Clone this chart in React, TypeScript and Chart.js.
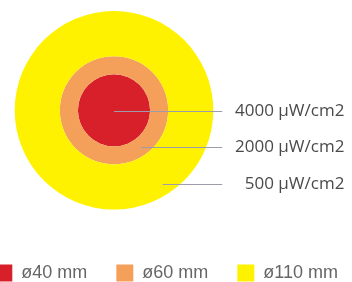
import React, { useEffect, useRef } from "react";
import { Chart, registerables } from "chart.js";

Chart.register(...registerables);

// Data
const diametersMm = [40, 60, 110];
const intensities = [4000, 2000, 500];
const intensityUnit = "µW/cm2";
const legendLabels = ["ø40 mm", "ø60 mm", "ø110 mm"];
const ringColors = ["#d8202a", "#f5a05a", "#fff200"];

// Leader line style (fractions of outer radius)
const leaderDx = [0, 0.27, 0.49];
const leaderDy = [0.01, 0.37, 0.74];

export default function App() {
  const ref = useRef<HTMLCanvasElement | null>(null);

  useEffect(() => {
    if (!ref.current) return;
    const n = diametersMm.length;
    // datasets outer -> inner; weight = ring thickness in mm
    const datasets = [];
    for (let i = n - 1; i >= 0; i--) {
      const prev = i > 0 ? diametersMm[i - 1] : 0;
      datasets.push({
        data: [1],
        backgroundColor: [ringColors[i]],
        borderWidth: 0,
        weight: (diametersMm[i] - prev) / 2,
      });
    }

    const leaderPlugin = {
      id: "leaders",
      afterDatasetsDraw(chart: any) {
        const ctx = chart.ctx;
        const outer = chart.getDatasetMeta(0).data[0] as any;
        const cx = outer.x;
        const cy = outer.y;
        const R = outer.outerRadius;
        ctx.save();
        for (let i = 0; i < n; i++) {
          const y = cy + leaderDy[i] * R;
          const x0 = cx + leaderDx[i] * R;
          const x1 = cx + 1.09 * R;
          ctx.strokeStyle = "#9c9cac";
          ctx.lineWidth = 1;
          ctx.beginPath();
          ctx.moveTo(x0, Math.round(y) + 0.5);
          ctx.lineTo(x1, Math.round(y) + 0.5);
          ctx.stroke();
          ctx.fillStyle = "#4a4a4a";
          ctx.font = "17px 'Open Sans'";
          ctx.textAlign = "right";
          ctx.textBaseline = "middle";
          ctx.fillText(`${intensities[i]} ${intensityUnit}`, cx + 2.32 * R, y);
        }
        ctx.restore();
      },
    };

    const chart = new Chart(ref.current, {
      type: "pie",
      data: { labels: ["ring"], datasets: datasets as any },
      options: {
        animation: false,
        responsive: false,
        layout: { padding: { top: 11, bottom: 0, left: 0, right: 0 } },
        plugins: {
          tooltip: { enabled: false },
          legend: {
            position: "bottom",
            align: "end",
            title: { display: true, text: " ", font: { size: 12 }, padding: { top: 0, bottom: 11 } },
            labels: {
              boxWidth: 17,
              boxHeight: 17,
              padding: 29,
              color: "#555555",
              font: { family: "'Liberation Sans', Arial, sans-serif", size: 18 },
              generateLabels: () =>
                legendLabels.map((t, i) => ({
                  text: t,
                  fillStyle: ringColors[i],
                  strokeStyle: ringColors[i],
                  lineWidth: 0,
                  hidden: false,
                  index: i,
                })),
            },
          },
        },
      },
      plugins: [leaderPlugin],
    });
    return () => chart.destroy();
  }, []);

  return (
    <div style={{ position: "absolute", left: 0, top: 0, width: 352, height: 282, overflow: "hidden", background: "#fff" }}>
      <div style={{ position: "absolute", left: -139, top: 0, width: 506, height: 292 }}>
        <canvas ref={ref} width={506} height={292} style={{ display: "block" }} />
      </div>
    </div>
  );
}
